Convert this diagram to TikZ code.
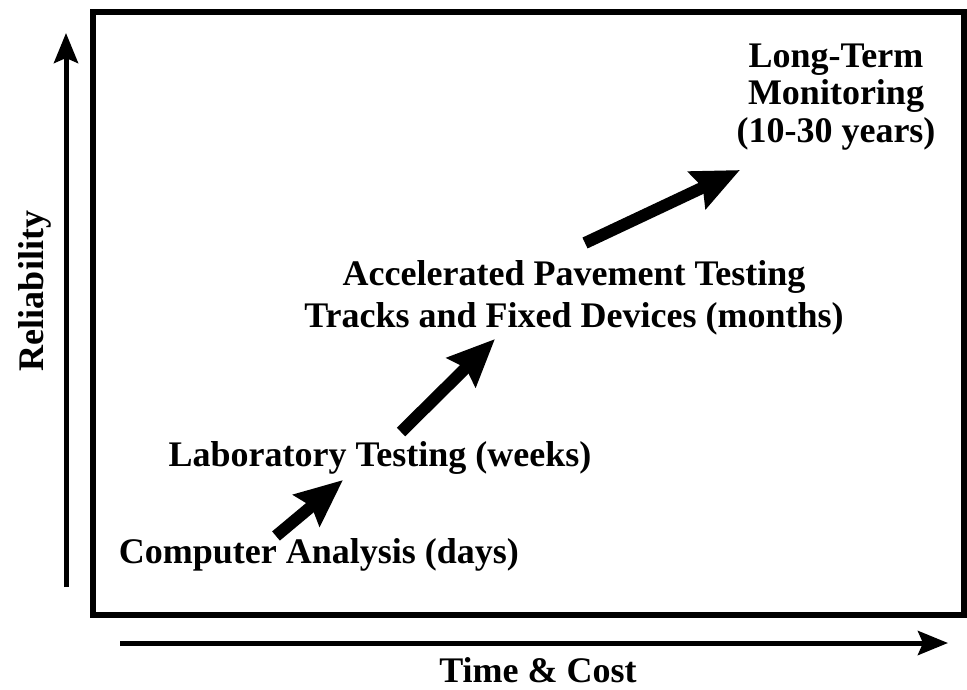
\documentclass[tikz,border=0pt]{standalone}
\usepackage{fontspec}
\setmainfont{Liberation Serif}
\usetikzlibrary{arrows.meta}
\usetikzlibrary{positioning}

\begin{document}
\begin{tikzpicture}[x=1pt,y=-1pt,>={Stealth[length=30pt,width=24pt,inset=5pt]},font=\fontsize{36}{37.5}\selectfont\bfseries]
\tikzstyle{lbl}=[inner sep=0pt,align=center,anchor=base]
\tikzstyle{axis}=[->,line width=5pt]
\tikzstyle{fat}=[-{Stealth[length=47pt,width=40pt,inset=6pt]},line width=12pt]
\useasboundingbox (0,0) rectangle (967,689);
% plot frame
\draw[line width=6pt] (93,11.5) rectangle (964,614.5);
% axes
\coordinate (y0) at (66,587);
\coordinate (y1) at (66,33);
\coordinate (x0) at (120,643);
\coordinate (x1) at (948,643);
\draw[axis] (y0) -- (y1);
\draw[axis] (x0) -- (x1);
\node[lbl,rotate=90] (rel) at (43,291) {Reliability};
\node[lbl] (tc) at (538,682) {Time \& Cost};
% stages (base = last line)
\node[lbl] (comp) at (319,563) {Computer Analysis (days)};
\node[lbl] (lab) at (380,466) {Laboratory Testing (weeks)};
\node[lbl,font=\fontsize{36}{42}\selectfont\bfseries] (apt) at (574,327) {Accelerated Pavement Testing\\Tracks and Fixed Devices (months)};
\node[lbl] (ltm) at (836,142) {Long-Term\\Monitoring\\(10-30 years)};
\coordinate (a1s) at (276,536);
\coordinate (a1e) at (343,480);
\coordinate (a2s) at (401,432);
\coordinate (a2e) at (495,339);
\coordinate (a3s) at (585,243);
\coordinate (a3e) at (740,170);
\path (a1s) edge[fat] (a1e)
      (a2s) edge[fat] (a2e)
      (a3s) edge[fat] (a3e);
\end{tikzpicture}
\end{document}
